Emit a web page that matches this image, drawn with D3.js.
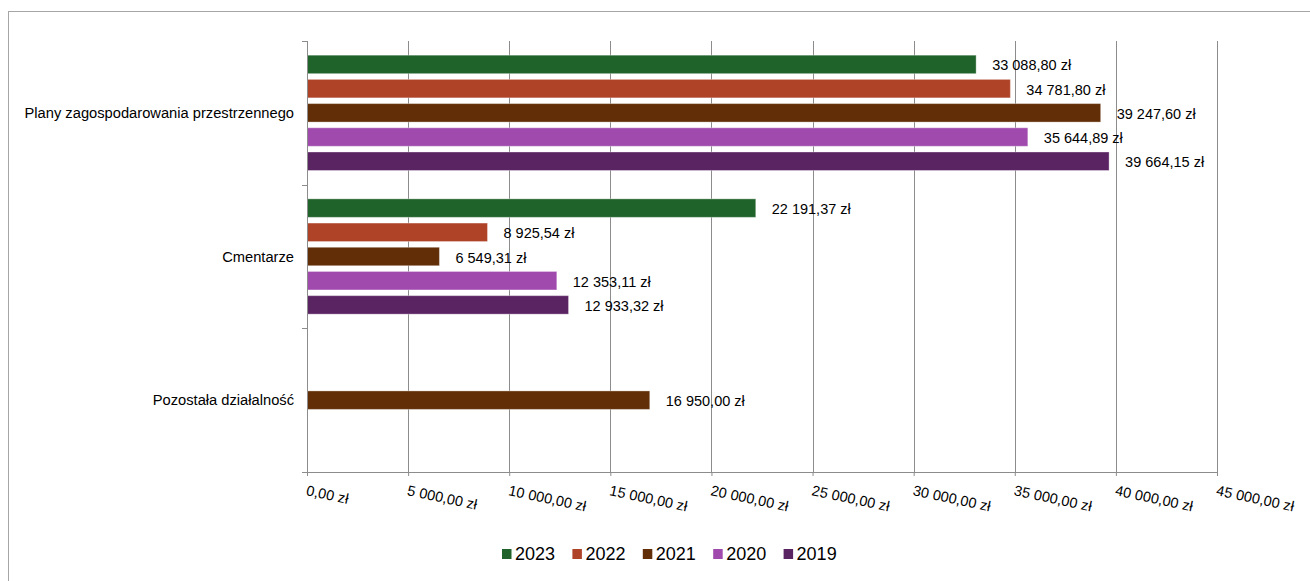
<!DOCTYPE html>
<html>
<head>
<meta charset="utf-8">
<script src="https://cdn.jsdelivr.net/npm/d3@7"></script>
<style>
  html, body { margin: 0; padding: 0; background: #fff; }
  svg { display: block; font-family: "Liberation Sans", Arial, sans-serif; }
</style>
</head>
<body>
<svg id="chart" width="1310" height="581"></svg>
<script>
// ---- data ----
const categories = ["Plany zagospodarowania przestrzennego", "Cmentarze", "Pozostała działalność"];
const years = ["2023", "2022", "2021", "2020", "2019"];
const values2023 = [33088.80, 22191.37, null];
const values2022 = [34781.80, 8925.54, null];
const values2021 = [39247.60, 6549.31, 16950.00];
const values2020 = [35644.89, 12353.11, null];
const values2019 = [39664.15, 12933.32, null];
const seriesValues = [values2023, values2022, values2021, values2020, values2019];
const tickValues = [0, 5000, 10000, 15000, 20000, 25000, 30000, 35000, 40000, 45000];
const seriesColors = ["#1f622a", "#ae4328", "#612e08", "#a04aad", "#5a2463"];

(function () {
// ---- setup ----
const svg = d3.select("#chart");
const plLocale = d3.formatLocale({decimal: ",", thousands: " ", grouping: [3], currency: ["", " zł"]});
const fmt = plLocale.format("$,.2f");

const pLeft = 307, pRight = 1217, pTop = 41, pBottom = 472;

// outer frame
svg.append("rect")
  .attr("x", 8.5).attr("y", 11.5)
  .attr("width", 1400).attr("height", 700)
  .attr("fill", "none").attr("stroke", "#a6a6a6").attr("stroke-width", 1);

const x = d3.scaleLinear().domain([0, 45000]).range([pLeft, pRight]);
const y = d3.scaleBand().domain(categories).range([pTop, pBottom]).paddingInner(0).paddingOuter(0);
const yInner = d3.scaleBand().domain(years).range([0, y.bandwidth()]).paddingInner(0.236).paddingOuter(0.586);

// gridlines
svg.append("g").selectAll("line").data(tickValues.filter(d => d > 0)).join("line")
  .attr("x1", d => Math.round(x(d)) + 0.5).attr("x2", d => Math.round(x(d)) + 0.5)
  .attr("y1", pTop).attr("y2", pBottom)
  .attr("stroke", "#8c8c8c").attr("stroke-width", 1);

// bars
const rows = [];
categories.forEach((c, ci) => {
  years.forEach((yr, si) => {
    const v = seriesValues[si][ci];
    if (v != null) rows.push({cat: c, year: yr, value: v, color: seriesColors[si]});
  });
});

svg.append("g").selectAll("rect").data(rows).join("rect")
  .attr("x", x(0))
  .attr("y", d => y(d.cat) + yInner(d.year))
  .attr("width", d => x(d.value) - x(0))
  .attr("height", yInner.bandwidth())
  .attr("fill", d => d.color)
  .attr("stroke", "rgba(255,255,255,0.35)")
  .attr("stroke-width", 1);

// data labels
svg.append("g").selectAll("text").data(rows).join("text")
  .attr("x", d => x(d.value) + 16)
  .attr("y", d => y(d.cat) + yInner(d.year) + yInner.bandwidth() / 2 + 1)
  .attr("dominant-baseline", "central")
  .attr("font-size", "14.5px")
  .attr("fill", "#000")
  .text(d => fmt(d.value));

// x axis
const xAxis = d3.axisBottom(x).tickValues(tickValues).tickSize(4).tickFormat(fmt);
const gx = svg.append("g").attr("transform", `translate(0,${pBottom})`).call(xAxis);
gx.select(".domain").attr("stroke", "#8c8c8c").attr("d", `M${pLeft - 5},0.5H${pRight + 0.5}`);
gx.selectAll(".tick line").attr("stroke", "#8c8c8c");
gx.selectAll(".tick text")
  .attr("fill", "#000")
  .attr("font-size", "14.5px")
  .attr("font-family", "'Liberation Sans', Arial, sans-serif")
  .attr("text-anchor", "start")
  .attr("dy", null)
  .attr("y", 0)
  .attr("transform", "translate(-2,23) rotate(12)");

// y axis
svg.append("line")
  .attr("x1", pLeft + 0.5).attr("x2", pLeft + 0.5)
  .attr("y1", pTop).attr("y2", pBottom)
  .attr("stroke", "#8c8c8c");
const bounds = categories.map(c => y(c)).concat([y(categories[categories.length - 1]) + y.bandwidth()]);
svg.append("g").selectAll("line").data(bounds).join("line")
  .attr("x1", pLeft - 5).attr("x2", pLeft)
  .attr("y1", d => Math.round(d) + 0.5).attr("y2", d => Math.round(d) + 0.5)
  .attr("stroke", "#8c8c8c");

svg.append("g").selectAll("text").data(categories).join("text")
  .attr("x", 294)
  .attr("y", d => y(d) + y.bandwidth() / 2)
  .attr("text-anchor", "end")
  .attr("dominant-baseline", "central")
  .attr("font-size", "14.7px")
  .attr("fill", "#000")
  .text(d => d);

// legend
const legend = svg.append("g").attr("transform", "translate(502,554)");
const item = legend.selectAll("g").data(years).join("g")
  .attr("transform", (d, i) => `translate(${i * 70.4},0)`);
item.append("rect")
  .attr("x", 0).attr("y", -5).attr("width", 9.5).attr("height", 10)
  .attr("fill", (d, i) => seriesColors[i]);
item.append("text")
  .attr("x", 13).attr("y", 0)
  .attr("dominant-baseline", "central")
  .attr("font-size", "18px")
  .attr("fill", "#000")
  .text(d => d);
})();
</script>
</body>
</html>
